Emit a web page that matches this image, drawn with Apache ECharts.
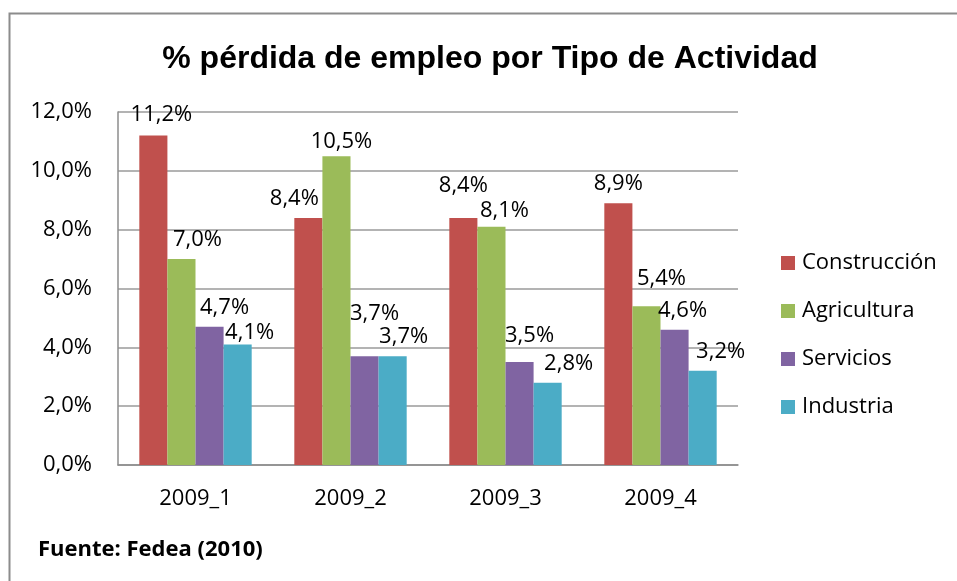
<!DOCTYPE html>
<html>
<head>
<meta charset="utf-8">
<script src="https://cdn.jsdelivr.net/npm/echarts@6/dist/echarts.min.js"></script>
<style>
  html, body { margin: 0; padding: 0; background: #fff; }
  #chart { width: 957px; height: 581px; }
</style>
</head>
<body>
<div id="chart"></div>
<script>
// data
var categories = ['2009_1', '2009_2', '2009_3', '2009_4'];
var seriesNames = ['Construcción', 'Agricultura', 'Servicios', 'Industria'];
var construccion = [11.2, 8.4, 8.4, 8.9];
var agricultura = [7.0, 10.5, 8.1, 5.4];
var servicios = [4.7, 3.7, 3.5, 4.6];
var industria = [4.1, 3.7, 2.8, 3.2];
var yTicks = [0, 2, 4, 6, 8, 10, 12];

var colors = ['#C0504D', '#9BBB59', '#8064A2', '#4BACC6'];

// label nudges so they sit like the Excel ones (px)
var labelShift = [
    [[8, -2], [-14, 0], [0, -13], [0, 0]],
    [[16, 0], [5, 5], [13, 3], [15, -8]],
    [[15, 0], [10, -23], [10, -7], [8, 0]],
    [[12, 7], [11, 0], [21, 0], [18, 0]]
];

var FONT = '"Open Sans", "Noto Sans", sans-serif';

function pct(v) {
    return v.toFixed(1).replace('.', ',') + '%';
}

function makeSeries(name, values, idx) {
    return {
        name: name,
        type: 'bar',
        barGap: 0,
        barCategoryGap: '27.5%',
        itemStyle: { color: colors[idx] },
        label: {
            show: true,
            position: 'top',
            distance: 8,
            color: '#000',
            fontFamily: FONT,
            fontSize: 22,
            formatter: function (p) { return pct(p.value); }
        },
        data: values.map(function (v, i) {
            return { value: v, label: { offset: labelShift[idx][i] } };
        })
    };
}

var myChart = echarts.init(document.getElementById('chart'));

var option = {
    animation: false,
    backgroundColor: '#fff',
    title: {
        text: '% pérdida de empleo por Tipo de Actividad',
        left: 490,
        textAlign: 'center',
        top: 43,
        padding: 0,
        textStyle: {
            fontFamily: '"Liberation Sans", Arial, sans-serif',
            fontWeight: 'bold',
            fontSize: 32,
            color: '#000'
        }
    },
    legend: {
        orient: 'vertical',
        left: 781,
        top: 252,
        itemWidth: 14,
        itemHeight: 14,
        itemGap: 26,
        icon: 'rect',
        padding: 0,
        textStyle: {
            fontFamily: FONT,
            fontSize: 22,
            lineHeight: 22,
            color: '#000',
            padding: [0, 0, 0, 2]
        },
        data: seriesNames
    },
    grid: {
        left: 118,
        right: 219,
        top: 112,
        bottom: 116,
        containLabel: false
    },
    xAxis: {
        type: 'category',
        data: categories,
        axisLine: { lineStyle: { color: '#8c8c8c', width: 1.5 } },
        axisTick: { show: false },
        axisLabel: {
            margin: 23,
            color: '#000',
            fontFamily: FONT,
            fontSize: 22
        }
    },
    yAxis: {
        type: 'value',
        min: yTicks[0],
        max: yTicks[yTicks.length - 1],
        interval: yTicks[1] - yTicks[0],
        axisLine: { show: true, lineStyle: { color: '#8c8c8c', width: 1.5 } },
        axisTick: { show: false },
        splitLine: { lineStyle: { color: '#9a9a9a', width: 1.5 } },
        axisLabel: {
            margin: 26,
            color: '#000',
            fontFamily: FONT,
            fontSize: 22,
            formatter: function (v) { return pct(v); }
        }
    },
    graphic: [
        {
            type: 'rect',
            shape: { x: 9.5, y: 13.5, width: 1200, height: 1000 },
            style: { fill: 'none', stroke: '#8c8c8c', lineWidth: 2 },
            silent: true,
            z: -1
        },
        {
            type: 'text',
            left: 38,
            top: 539,
            style: {
                text: 'Fuente: Fedea (2010)',
                fontFamily: FONT,
                fontWeight: 'bold',
                fontSize: 22,
                fill: '#000'
            }
        }
    ],
    series: [
        makeSeries(seriesNames[0], construccion, 0),
        makeSeries(seriesNames[1], agricultura, 1),
        makeSeries(seriesNames[2], servicios, 2),
        makeSeries(seriesNames[3], industria, 3)
    ]
};

myChart.setOption(option);
</script>
</body>
</html>
